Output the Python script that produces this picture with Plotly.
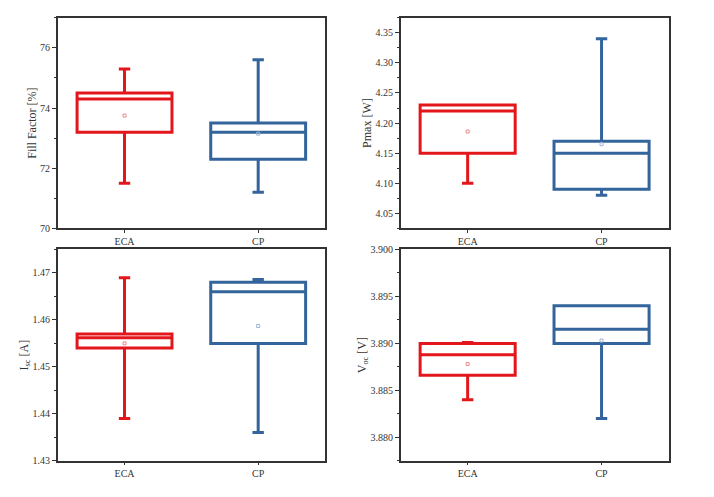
import plotly.graph_objects as go
from plotly.subplots import make_subplots

categories = ["ECA", "CP"]
colors = ["#e3161b", "#33649b"]
mean_colors = ["#e98a8c", "#9db5d4"]

# Fill Factor [%]
ff_low = [71.5, 71.2]
ff_q1 = [73.2, 72.3]
ff_med = [74.3, 73.2]
ff_q3 = [74.5, 73.5]
ff_high = [75.3, 75.6]
ff_mean = [73.75, 73.15]

# Pmax [W]
pm_low = [4.10, 4.08]
pm_q1 = [4.15, 4.09]
pm_med = [4.22, 4.15]
pm_q3 = [4.23, 4.17]
pm_high = [4.23, 4.34]
pm_mean = [4.186, 4.165]

# Isc [A]
isc_low = [1.439, 1.436]
isc_q1 = [1.4540, 1.4550]
isc_med = [1.4562, 1.4660]
isc_q3 = [1.4570, 1.4680]
isc_high = [1.4690, 1.4686]
isc_mean = [1.4550, 1.4587]

# Voc [V]
voc_low = [3.8840, 3.8820]
voc_q1 = [3.8866, 3.8900]
voc_med = [3.8888, 3.8915]
voc_q3 = [3.8900, 3.8940]
voc_high = [3.8901, 3.8940]
voc_mean = [3.8878, 3.8903]

panels = [
    (1, 1, ff_low, ff_q1, ff_med, ff_q3, ff_high, ff_mean),
    (1, 2, pm_low, pm_q1, pm_med, pm_q3, pm_high, pm_mean),
    (2, 1, isc_low, isc_q1, isc_med, isc_q3, isc_high, isc_mean),
    (2, 2, voc_low, voc_q1, voc_med, voc_q3, voc_high, voc_mean),
]

fig = make_subplots(rows=2, cols=2)

for (r, c, lo, q1, med, q3, hi, mn) in panels:
    for i, cat in enumerate(categories):
        fig.add_trace(go.Box(
            x=[cat], q1=[q1[i]], median=[med[i]], q3=[q3[i]],
            lowerfence=[lo[i]], upperfence=[hi[i]],
            width=0.71, whiskerwidth=0.12,
            line=dict(color=colors[i], width=3),
            fillcolor="rgba(255,255,255,0)",
            boxpoints=False, showlegend=False, hoverinfo="skip",
        ), row=r, col=c)
        fig.add_trace(go.Scatter(
            x=[cat], y=[mn[i]], mode="markers",
            marker=dict(symbol="square-open", size=3, color=mean_colors[i],
                        line=dict(width=1, color=mean_colors[i])),
            showlegend=False, hoverinfo="skip",
        ), row=r, col=c)

font = dict(family="Liberation Serif, Times New Roman, serif", size=10, color="#333")

xdom = [[57.7 / 714, 325 / 714], [400.7 / 714, 668.5 / 714]]
ydom = [[1 - 228 / 497, 1 - 12 / 497], [1 - 466 / 497, 1 - 249.5 / 497]]

yspec = {
    (1, 1): dict(range=[70, 77], dtick=2, tick0=70, minor=1, fmt="d", title="Fill Factor [%]", so=1),
    (1, 2): dict(range=[4.025, 4.375], dtick=0.05, tick0=4.0, minor=0.025, fmt=".2f", title="Pmax [W]", so=1),
    (2, 1): dict(range=[1.43, 1.475], dtick=0.01, tick0=1.43, minor=0.005, fmt=".2f", title="I<sub>sc</sub> [A]", so=1),
    (2, 2): dict(range=[3.8775, 3.900], dtick=0.005, tick0=3.88, minor=0.0025, fmt=".3f", title="V<sub>oc</sub> [V]", so=1),
}

for (r, c), s in yspec.items():
    dom_x = xdom[c - 1]
    dom_y = ydom[0] if r == 1 else ydom[1]
    fig.update_xaxes(
        domain=dom_x, range=[-0.5, 1.5], type="category",
        showline=True, linecolor="#333", linewidth=1.5, mirror=True,
        ticks="outside", ticklen=3, tickcolor="#333", tickfont=font,
        showgrid=False, zeroline=False, row=r, col=c)
    fig.update_yaxes(
        domain=dom_y, range=s["range"], dtick=s["dtick"], tick0=s["tick0"],
        tickformat=s["fmt"],
        showline=True, linecolor="#333", linewidth=1.5, mirror=True,
        ticks="outside", ticklen=4, tickcolor="#333", tickfont=font,
        minor=dict(dtick=s["minor"], tick0=s["tick0"], ticks="outside", ticklen=2, tickcolor="#333"),
        showgrid=False, zeroline=False,
        title=dict(text=s["title"], font=dict(family=font["family"], size=12, color="#333"), standoff=s["so"]),
        row=r, col=c)

fig.update_layout(
    width=714, height=497,
    margin=dict(l=0, r=0, t=0, b=0),
    paper_bgcolor="white", plot_bgcolor="white",
    font=font,
)

fig.write_html("out.html")
